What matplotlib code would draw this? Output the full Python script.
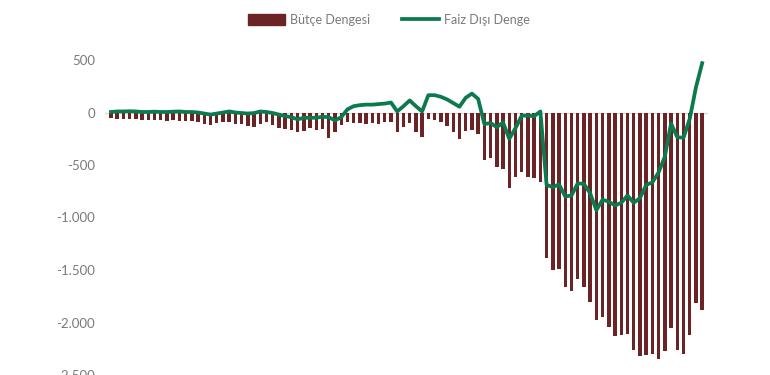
import matplotlib.pyplot as plt
import numpy as np
from matplotlib.ticker import FuncFormatter
from matplotlib.patches import Patch
from matplotlib.lines import Line2D

# butce dengesi (bars) and faiz disi denge (line), 96 periods
butce = [-55, -65, -60, -65, -60, -70, -75, -70, -75, -80,
         -75, -80, -80, -85, -95, -110, -120, -100, -95, -90,
         -110, -110, -125, -135, -105, -95, -120, -145, -160, -170,
         -185, -180, -150, -165, -160, -240, -185, -115, -95, -100,
         -100, -110, -100, -105, -90, -95, -190, -140, -100, -190,
         -230, -60, -75, -95, -130, -185, -250, -180, -165, -200,
         -450, -430, -520, -540, -720, -615, -570, -615, -625, -665,
         -1385, -1500, -1490, -1660, -1700, -1590, -1660, -1800, -1980, -1950,
         -2045, -2130, -2120, -2110, -2265, -2320, -2310, -2300, -2350, -2275,
         -2055, -2265, -2300, -2120, -1810, -1885]

faiz_disi = [5, 10, 10, 12, 10, 5, 5, 8, 5, 5,
             8, 10, 5, 5, 0, -10, -20, -10, 0, 10,
             0, -5, -10, -5, 10, 5, -5, -20, -35, -45,
             -65, -50, -50, -50, -40, -45, -75, -45, 30, 60,
             70, 75, 75, 80, 85, 95, 10, 60, 115, 60,
             10, 165, 165, 150, 125, 90, 55, 140, 180, 130,
             -110, -100, -140, -95, -250, -150, -30, -30, -35, 10,
             -690, -710, -685, -800, -790, -675, -680, -770, -930, -830,
             -850, -885, -860, -790, -860, -815, -690, -665, -570, -420,
             -105, -235, -240, -60, 240, 470]

yticks = [500, 0, -500, -1000, -1500, -2000, -2500]

bar_color = '#6b2325'
line_color = '#0b7a4e'
text_color = '#7a7a7a'

plt.rcParams['font.family'] = ['Lato', 'DejaVu Sans']

x = np.arange(len(butce))

fig = plt.figure(figsize=(7.7, 3.75), dpi=100)
ax = fig.add_axes([0.136, 0.0, 0.784, 0.84])

ax.axhline(0, color='#d9d9d9', lw=1, zorder=1)
ax.bar(x, butce, width=0.55, color=bar_color, zorder=2)
ax.plot(x, faiz_disi, color=line_color, lw=2.7, zorder=3, solid_joinstyle='round')

ax.set_xlim(-1, len(butce))
ax.set_ylim(-2500, 500)
ax.set_yticks(yticks)
ax.yaxis.set_major_formatter(FuncFormatter(lambda v, p: f'{int(v):,}'.replace(',', '.')))
ax.set_xticks([])
ax.tick_params(axis='y', length=0, pad=7, labelsize=9.5, labelcolor=text_color)
for s in ax.spines.values():
    s.set_visible(False)

handles = [Patch(facecolor=bar_color, edgecolor=bar_color),
           Line2D([0], [0], color=line_color, lw=2.7)]
fig.legend(handles, ['Bütçe Dengesi', 'Faiz Dışı Denge'], loc='center',
           bbox_to_anchor=(0.505, 0.947), ncol=2, frameon=False,
           fontsize=9, labelcolor=text_color, handlelength=3.0,
           handleheight=0.9, columnspacing=2.5, handletextpad=0.4)

plt.savefig('out.png', dpi=100)
